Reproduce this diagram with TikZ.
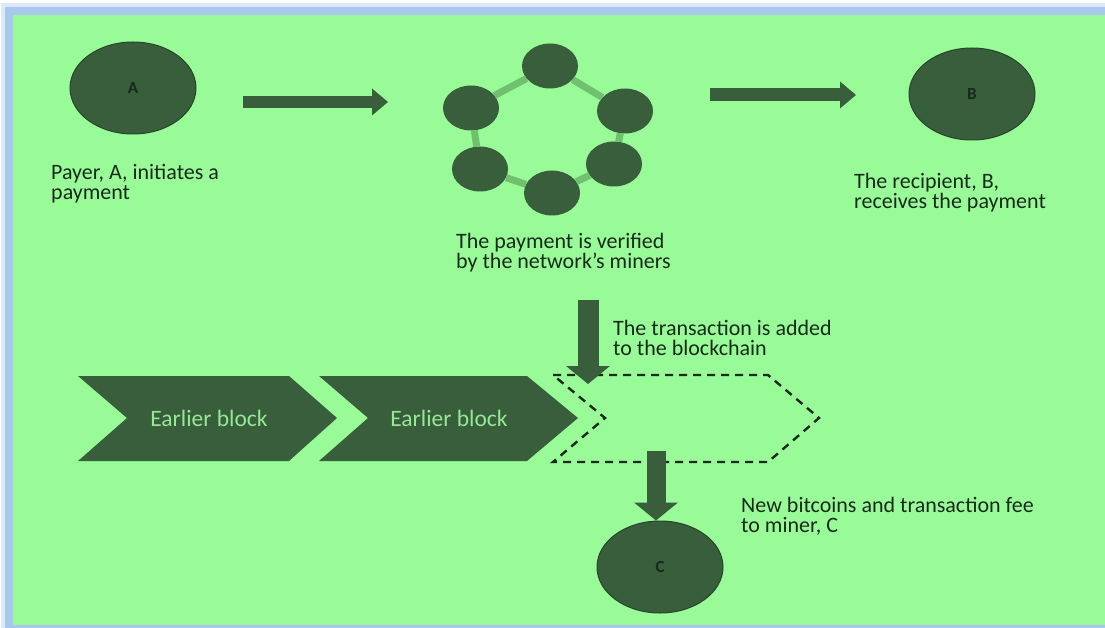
\documentclass[tikz,border=0pt]{standalone}
\usepackage{fontspec}
\setmainfont{Carlito}
\usetikzlibrary{shapes.geometric, arrows.meta, positioning, calc}
\definecolor{paper}{RGB}{152, 251, 152}
\definecolor{rim}{RGB}{168, 199, 238}
\definecolor{dark}{RGB}{56, 94, 60}
\definecolor{edge}{RGB}{40, 68, 44}
\definecolor{ink}{RGB}{24, 42, 26}
\definecolor{link}{RGB}{112, 192, 112}
\definecolor{soft}{RGB}{150, 232, 150}
\tikzset{
    party/.style={ellipse, fill=dark, draw=edge, line width=1pt, minimum width=126pt, minimum height=92pt, inner sep=0pt, text=ink, font=\fontsize{17}{17}\selectfont\bfseries},
    miner/.style={ellipse, fill=dark, minimum width=56pt, minimum height=45pt, inner sep=0pt},
    ring/.style={link, line width=7pt},
    caption/.style={anchor=north west, align=left, inner sep=0pt, text=ink, font=\fontsize{22}{20.5}\selectfont},
    chain/.style={fill=dark},
    newblock/.style={draw=ink, line width=2.4pt, dash pattern=on 8pt off 6pt},
    blocklabel/.style={text=soft, font=\fontsize{23.5}{24}\selectfont},
    flow/.style={dark, -{Triangle[length=16pt, width=27pt, line width=0pt]}},
    drop/.style={dark, -{Triangle[length=18pt, width=44pt, line width=0pt]}}
}

\begin{document}
\begin{tikzpicture}[x=1pt, y=-1pt]
    \useasboundingbox (0,0) rectangle (1105,628);
    % frame
    \fill[rim!40] (1,3) rectangle (1105,628);
    \fill[rim] (5,7) rectangle (1105,628);
    \fill[paper] (13,15) rectangle (1105,625);

    % payer, recipient, miner
    \node[party] (A) at (133,88) {A};
    \node[party] (B) at (972,94) {B};
    \node[party] (C) at (660,567) {C};

    % network of miners
    \foreach \n/\x/\y in {1/550/66, 2/625/111, 3/614/164, 4/552/193, 5/480/169, 6/471/108}
        \node[miner] (m\n) at (\x,\y) {};
    \foreach \a/\b in {1/2, 2/3, 3/4, 4/5, 5/6, 6/1}
        \draw[ring] (m\a) -- (m\b);

    % chain of blocks
    \fill[chain] (78,376) -- (289,376) -- (337,418) -- (289,461) -- (78,461) -- (127,418) -- cycle;
    \fill[chain] (319,376) -- (527,376) -- (578,418) -- (527,461) -- (319,461) -- (368,418) -- cycle;
    \draw[newblock] (553,375) -- (768,375) -- (819,418) -- (768,462) -- (553,462) -- (605,418) -- cycle;
    \node[blocklabel] (b1) at (209,418) {Earlier block};
    \node[blocklabel] (b2) at (449,418) {Earlier block};

    % captions
    \node[caption] (capA) at (51,164) {Payer, A, initiates a\\payment};
    \node[caption] (capNet) at (456,233) {The payment is verified\\by the network’s miners};
    \node[caption] (capB) at (854,173) {The recipient, B,\\receives the payment};
    \node[caption] (capAdd) at (613,320) {The transaction is added\\to the blockchain};
    \node[caption] (capFee) at (741,497) {New bitcoins and transaction fee\\to miner, C};

    % block arrows
    \coordinate (pay) at (243,102); \coordinate (net) at (388,102);
    \coordinate (ver) at (710,95); \coordinate (rec) at (856,95);
    \coordinate (add) at (588,300); \coordinate (ntop) at (588,384);
    \coordinate (nbot) at (656,451);
    \draw[flow, line width=12pt] (pay) -- (net);
    \draw[flow, line width=13pt] (ver) -- (rec);
    \draw[drop, line width=21pt] (add) -- (ntop);
    \draw[drop, line width=19pt] (nbot) -- (nbot |- C.north);
\end{tikzpicture}
\end{document}
